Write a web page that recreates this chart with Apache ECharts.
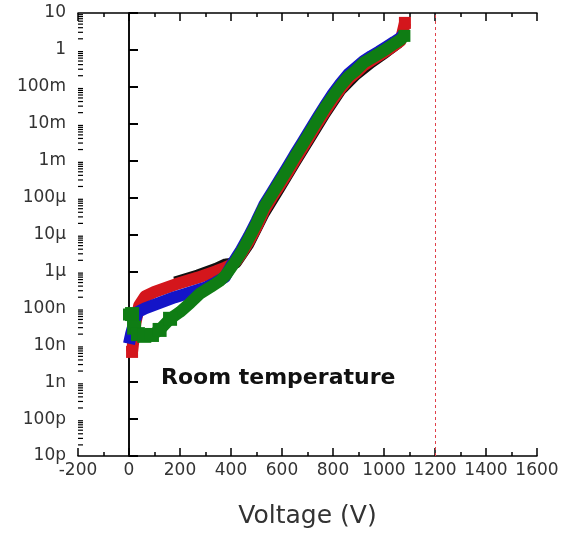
<!DOCTYPE html>
<html><head><meta charset="utf-8">
<script src="https://cdn.jsdelivr.net/npm/echarts@6/dist/echarts.min.js"></script>
<style>html,body{margin:0;padding:0;background:#fff}#c{width:563px;height:534px}</style>
</head><body><div id="c"></div>
<script>
// ---- data ----
var xTicks = [-200, 0, 200, 400, 600, 800, 1000, 1200, 1400, 1600];
var yTickLabels = ['10p','100p','1n','10n','100n','1\u00b5','10\u00b5','100\u00b5','1m','10m','100m','1','10'];
var limitVoltage = 1200;
var annotation = 'Room temperature';

var greenV = [0,12,20,35,60,90,120,161,200,240,278,320,357,380,400,420,440,470,500,530,560,590,620,650,680,710,740,770,800,830,860,890,920,950,980,1010,1040,1065,1080];
var greenI = [6.8e-8,7.0e-8,3.0e-8,2.0e-8,1.8e-8,1.9e-8,2.6e-8,5.2e-8,8.0e-8,1.4e-7,2.5e-7,3.8e-7,5.6e-7,8.0e-7,1.26e-6,2.0e-6,3.3e-6,7.9e-6,2.0e-5,5.6e-5,1.2e-4,2.6e-4,5.6e-4,1.26e-3,2.7e-3,5.9e-3,1.3e-2,2.8e-2,5.6e-2,0.107,0.19,0.28,0.45,0.6,0.8,1.07,1.48,1.9,2.4];

var redV = [12,18,25,40,63,100,180,270,340,376,400,420,440,470,500,530,560,590,620,650,680,710,740,770,800,830,860,890,920,950,980,1010,1040,1065,1082];
var redI = [6.6e-9,1.5e-8,4.0e-8,1.2e-7,2.1e-7,2.8e-7,4.4e-7,6.8e-7,1.0e-6,1.26e-6,1.5e-6,1.9e-6,3.0e-6,6.5e-6,1.6e-5,4.5e-5,1.0e-4,2.1e-4,4.5e-4,1.0e-3,2.2e-3,4.8e-3,1.05e-2,2.2e-2,4.6e-2,0.09,0.16,0.24,0.38,0.52,0.7,0.95,1.32,1.75,5.4];

var blueV = [0,8,20,35,63,120,180,240,298,340,376,400,420,440,470,500,530,560,590,620,650,680,710,740,770,800,830,860,890,920,950,980,1010,1040,1065,1078];
var blueI = [1.1e-8,2.0e-8,4.0e-8,8.0e-8,1.0e-7,1.4e-7,2.0e-7,2.7e-7,3.6e-7,5.0e-7,7.0e-7,1.4e-6,2.3e-6,3.8e-6,9.0e-6,2.3e-5,6.3e-5,1.35e-4,3.0e-4,6.5e-4,1.45e-3,3.1e-3,6.8e-3,1.5e-2,3.2e-2,6.6e-2,0.125,0.22,0.33,0.5,0.68,0.9,1.22,1.65,2.15,2.7];

var blackV = [180,270,340,380,420,470,530,590,650,710,770,830,890,950,1010,1060];
var blackI = [5.2e-7,8.0e-7,1.2e-6,1.6e-6,1.7e-6,5.5e-6,3.7e-5,1.75e-4,8.5e-4,4.0e-3,1.9e-2,8.0e-2,0.21,0.45,0.88,1.6];

// minor log ticks (2..9 x 10^k) for the decades of the y axis
var yMinorTicks = [];
for (var e = -11; e < 1; e++) for (var m = 2; m <= 9; m++) yMinorTicks.push([-200, m * Math.pow(10, e)]);

function pts(v, i, ends, chunkBelow) {
  return v.map(function (x, k) {
    var d = {value: [x, i[k]]};
    if (ends && (k === 0 || k === v.length - 1)) { d.symbol = 'rect'; d.symbolSize = 12; }
    else if (chunkBelow && x <= chunkBelow) { d.symbol = 'rect'; d.symbolSize = 14; }
    return d;
  });
}

var FONT = 'DejaVu Sans';
var chart = echarts.init(document.getElementById('c'), null, {renderer: 'canvas'});

function band(name, color, v, i, w, ends, chunkBelow, extra) {
  var s = {
    name: name, type: 'line', data: pts(v, i, ends, chunkBelow),
    symbol: 'none', showSymbol: true,
    itemStyle: {color: color},
    lineStyle: {color: color, width: w, join: 'round', cap: 'butt'},
    silent: true, animation: false, z: 3
  };
  if (extra) for (var k in extra) s[k] = extra[k];
  return s;
}

chart.setOption({
  animation: false,
  backgroundColor: '#fff',
  grid: {left: 78, right: 26, top: 13, bottom: 76, containLabel: false},
  title: {
    text: annotation, left: 156, top: 362,
    textStyle: {fontFamily: FONT, fontWeight: 'bold', fontSize: 22, color: '#111'}
  },
  xAxis: [{
    type: 'value', min: -200, max: 1600, interval: 200,
    name: 'Voltage (V)', nameLocation: 'middle', nameGap: 48,
    nameTextStyle: {fontFamily: FONT, fontSize: 25, color: '#333'},
    axisLine: {show: true, lineStyle: {color: '#000', width: 1.5}},
    axisTick: {show: true, inside: true, length: 8, lineStyle: {color: '#000', width: 1.5}},
    minorTick: {show: true, splitNumber: 2, length: 4, lineStyle: {color: '#000', width: 1.5}},
    axisLabel: {fontFamily: FONT, fontSize: 17, color: '#333', margin: 6,
      formatter: function (v) { return xTicks.indexOf(v) >= 0 ? String(v) : ''; }},
    splitLine: {show: false}
  }, {
    type: 'value', position: 'top', min: -200, max: 1600, interval: 200,
    axisLine: {show: true, onZero: false, lineStyle: {color: '#000', width: 1.5}},
    axisTick: {show: true, inside: true, length: 8, lineStyle: {color: '#000', width: 1.5}},
    minorTick: {show: true, splitNumber: 2, length: 4, lineStyle: {color: '#000', width: 1.5}},
    axisLabel: {show: false}, splitLine: {show: false}
  }],
  yAxis: [{
    type: 'log', logBase: 10, min: 1e-11, max: 10, interval: 1,
    axisLine: {show: true, lineStyle: {color: '#000', width: 1.5}},
    axisTick: {show: true, inside: true, length: 9, lineStyle: {color: '#000', width: 2}},
    axisLabel: {fontFamily: FONT, fontSize: 17, color: '#333', margin: 12, showMinLabel: true, showMaxLabel: true,
      formatter: function (v) {
        var k = Math.round(Math.log10(v)) + 11;
        return yTickLabels[k] || '';
      }},
    splitLine: {show: false}
  }, {
    type: 'log', logBase: 10, min: 1e-11, max: 10, interval: 1, position: 'right',
    axisLine: {show: true, lineStyle: {color: '#000', width: 1.5}},
    axisTick: {show: false}, axisLabel: {show: false}, splitLine: {show: false}
  }],
  series: [
    {
      type: 'custom', name: 'minor ticks', silent: true, z: 5,
      xAxisIndex: 0, yAxisIndex: 0, encode: {x: 0, y: 1},
      data: yMinorTicks,
      renderItem: function (params, api) {
        var p = api.coord([api.value(0), api.value(1)]);
        return {type: 'line', shape: {x1: p[0], y1: p[1], x2: p[0] + 5, y2: p[1]},
                style: {stroke: '#000', lineWidth: 1.2}};
      }
    },
    band('black', '#111', blackV, blackI, 11, false, 0),
    band('red', '#d4161c', redV, redI, 12, true, 0, {
      markLine: {
        silent: true, symbol: ['none', 'none'], label: {show: false},
        lineStyle: {color: '#e0404a', type: [3, 3], width: 1},
        data: [{xAxis: limitVoltage}]
      }
    }),
    band('blue', '#1414c8', blueV, blueI, 12, false, 0),
    band('green', '#0f7d14', greenV, greenI, 12, true, 161)
  ]
});
</script>
</body></html>
